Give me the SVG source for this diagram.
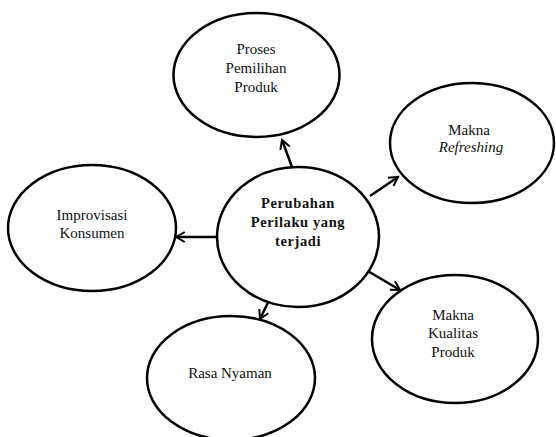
<svg xmlns="http://www.w3.org/2000/svg" width="556" height="437" viewBox="0 0 556 437">
<defs>
<style>
.n ellipse{fill:#fff;stroke:#000;stroke-width:2.5}
.n text{font-family:'Liberation Serif','Times New Roman','DejaVu Serif',serif;font-size:15px;fill:#111;text-anchor:middle}
.n text.b{font-weight:bold;letter-spacing:0.6px;font-size:14.5px}
.n text.i{font-style:italic}
.c line{stroke:#000;stroke-width:2.5}
</style>
<marker id="ah" viewBox="0 0 10 10" refX="8" refY="5" markerWidth="5" markerHeight="5" orient="auto" markerUnits="strokeWidth">
<path d="M1,1 L8,5 L1,9" fill="none" stroke="#000" stroke-width="1.6"/>
</marker>
</defs>
<rect width="556" height="437" fill="#fff"/>
<g class="c">
<line x1="292" y1="167" x2="282" y2="140" marker-end="url(#ah)"/>
<line x1="370" y1="196" x2="398" y2="177" marker-end="url(#ah)"/>
<line x1="217" y1="237" x2="176" y2="237" marker-end="url(#ah)"/>
<line x1="366" y1="270" x2="400" y2="290" marker-end="url(#ah)"/>
<line x1="274" y1="290" x2="260" y2="319" marker-end="url(#ah)"/>
</g>
<g id="top" class="n"><ellipse cx="256.5" cy="75" rx="83" ry="62"/><text x="256" y="54">Proses</text><text x="256" y="73">Pemilihan</text><text x="256" y="92">Produk</text></g>
<g id="center" class="n"><ellipse cx="298" cy="237" rx="81" ry="70"/><text class="b" x="298" y="208">Perubahan</text><text class="b" x="298" y="227">Perilaku yang</text><text class="b" x="298" y="246">terjadi</text></g>
<g id="left" class="n"><ellipse cx="92" cy="228" rx="84" ry="63"/><text x="92" y="220">Improvisasi</text><text x="92" y="238">Konsumen</text></g>
<g id="rtop" class="n"><ellipse cx="472" cy="143" rx="82" ry="60"/><text x="469" y="135">Makna</text><text class="i" x="471" y="152">Refreshing</text></g>
<g id="rbot" class="n"><ellipse cx="455" cy="339" rx="83" ry="64"/><text x="453" y="320">Makna</text><text x="453" y="338">Kualitas</text><text x="453" y="357">Produk</text></g>
<g id="bot" class="n"><ellipse cx="231" cy="378" rx="84" ry="62"/><text x="230" y="378">Rasa Nyaman</text></g>
</svg>
